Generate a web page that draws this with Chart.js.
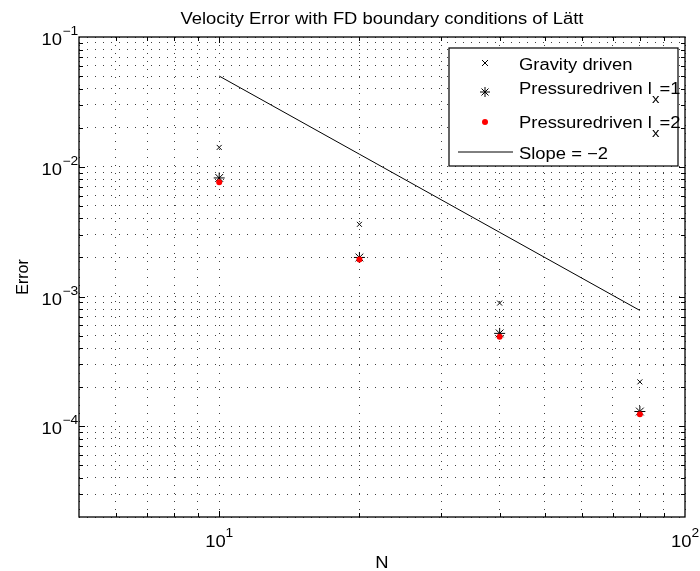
<!DOCTYPE html>
<html>
<head>
<meta charset="utf-8">
<script src="https://cdn.jsdelivr.net/npm/chart.js"></script>
<style>
  html, body { margin: 0; padding: 0; background: #fff; }
  #wrap { width: 700px; height: 571px; }
</style>
</head>
<body>
<div id="wrap"><canvas id="errorChart" width="700" height="571"></canvas></div>
<script>
// data
var N = [10, 20, 40, 80];
var gravityErr = [1.41e-2, 3.6e-3, 8.9e-4, 2.2e-4];
var pressure1Err = [8.2e-3, 2.0e-3, 5.2e-4, 1.3e-4];
var pressure2Err = [7.6e-3, 1.93e-3, 4.9e-4, 1.24e-4];
var slopeRef = [5e-2, 1.25e-2, 3.125e-3, 7.8125e-4];

var xRange = [5, 100];
var yRange = [2e-5, 1e-1];
var xLabelExps = [1, 2];
var yLabelExps = [-4, -3, -2, -1];

var chartTitle = 'Velocity Error with FD boundary conditions of L\u00e4tt';
var xTitle = 'N';
var yTitle = 'Error';
// [text, subscript, text after subscript]
var legendLabels = [
    ['Gravity driven', '', ''],
    ['Pressuredriven l', 'x', '=1'],
    ['Pressuredriven l', 'x', '=2'],
    ['Slope = \u22122', '', '']
];

var FONT = '"Liberation Sans", Arial, Helvetica, sans-serif';
var SX = 1.15; // the matlab text is a bit wider than it is tall

function textWidth(ctx, s, size) {
    ctx.save();
    ctx.font = size + 'px ' + FONT;
    var w = ctx.measureText(s).width * SX;
    ctx.restore();
    return w;
}

function drawText(ctx, s, x, y, size, align) {
    var w = textWidth(ctx, s, size);
    if (align === 'center') x -= w / 2;
    else if (align === 'right') x -= w;
    ctx.save();
    ctx.font = size + 'px ' + FONT;
    ctx.translate(x, y);
    ctx.scale(SX, 1);
    ctx.textAlign = 'left';
    ctx.textBaseline = 'alphabetic';
    ctx.fillStyle = '#000';
    ctx.fillText(s, 0, 0);
    ctx.restore();
    return w;
}

function logTicks(min, max) {
    var t = [];
    for (var e = Math.floor(Math.log10(min)); e <= Math.ceil(Math.log10(max)); e++) {
        for (var m = 1; m < 10; m++) {
            var v = m * Math.pow(10, e);
            if (v >= min * 0.999 && v <= max * 1.001) t.push({ value: v });
        }
    }
    return t;
}

function isDecade(v) {
    var l = Math.log10(v);
    return Math.abs(l - Math.round(l)) < 1e-9;
}

function pts(ys) {
    return N.map(function (n, i) { return { x: n, y: ys[i] }; });
}

function marker(ctx, style, x, y) {
    ctx.save();
    ctx.strokeStyle = '#000';
    ctx.lineWidth = 1;
    ctx.beginPath();
    if (style === 'crossRot') {
        ctx.moveTo(x - 3, y - 3); ctx.lineTo(x + 3, y + 3);
        ctx.moveTo(x - 3, y + 3); ctx.lineTo(x + 3, y - 3);
        ctx.stroke();
    } else if (style === 'star') {
        ctx.moveTo(x - 5, y); ctx.lineTo(x + 5, y);
        ctx.moveTo(x, y - 5); ctx.lineTo(x, y + 5);
        ctx.moveTo(x - 3.5, y - 3.5); ctx.lineTo(x + 3.5, y + 3.5);
        ctx.moveTo(x - 3.5, y + 3.5); ctx.lineTo(x + 3.5, y - 3.5);
        ctx.stroke();
    } else if (style === 'dot') {
        ctx.fillStyle = '#ff0000';
        ctx.arc(x, y, 3, 0, Math.PI * 2);
        ctx.fill();
    } else if (style === 'line') {
        ctx.moveTo(x - 27, y); ctx.lineTo(x + 28, y);
        ctx.stroke();
    }
    ctx.restore();
}

// axes box, inward ticks, tick labels, titles and legend, matlab style
var matlabDecor = {
    id: 'matlabDecor',
    afterDraw: function (chart) {
        var ctx = chart.ctx;
        var a = chart.chartArea;
        var xs = chart.scales.x;
        var ys = chart.scales.y;

        ctx.save();
        ctx.strokeStyle = '#000';
        ctx.lineWidth = 1;
        ctx.beginPath();
        xs.ticks.forEach(function (t) {
            if (t.value <= xRange[0] || t.value >= xRange[1]) return;
            var px = Math.round(xs.getPixelForValue(t.value)) + 0.5;
            var len = isDecade(t.value) ? 6 : 4;
            ctx.moveTo(px, a.bottom); ctx.lineTo(px, a.bottom - len);
            ctx.moveTo(px, a.top); ctx.lineTo(px, a.top + len);
        });
        ys.ticks.forEach(function (t) {
            if (t.value <= yRange[0] || t.value >= yRange[1]) return;
            var py = Math.round(ys.getPixelForValue(t.value)) + 0.5;
            var len = isDecade(t.value) ? 6 : 4;
            ctx.moveTo(a.left, py); ctx.lineTo(a.left + len, py);
            ctx.moveTo(a.right, py); ctx.lineTo(a.right - len, py);
        });
        ctx.stroke();
        ctx.lineWidth = 1.3;
        ctx.strokeRect(a.left, a.top, a.right - a.left, a.bottom - a.top);
        ctx.restore();

        // tick labels 10^n
        xLabelExps.forEach(function (e) {
            var px = xs.getPixelForValue(Math.pow(10, e));
            var w10 = textWidth(ctx, '10', 16);
            var sup = String(e).replace('-', '\u2212');
            var ws = textWidth(ctx, sup, 12);
            var x0 = px - (w10 + ws) / 2;
            drawText(ctx, '10', x0, a.bottom + 30, 16, 'left');
            drawText(ctx, sup, x0 + w10, a.bottom + 20, 12, 'left');
        });
        yLabelExps.forEach(function (e) {
            var py = ys.getPixelForValue(Math.pow(10, e));
            var sup = String(e).replace('-', '\u2212');
            drawText(ctx, '10', a.left - 17, py + 8, 16, 'right');
            drawText(ctx, sup, a.left - 16.5, py - 2, 12, 'left');
        });

        // titles
        var cx = (a.left + a.right) / 2;
        drawText(ctx, chartTitle, cx, 23.5, 16, 'center');
        drawText(ctx, xTitle, cx, 568, 16, 'center');
        ctx.save();
        ctx.translate(28, (a.top + a.bottom) / 2);
        ctx.rotate(-Math.PI / 2);
        ctx.font = '16px ' + FONT;
        ctx.fillStyle = '#000';
        ctx.textAlign = 'center';
        ctx.textBaseline = 'alphabetic';
        ctx.fillText(yTitle, 0, 0);
        ctx.restore();

        // legend
        ctx.save();
        ctx.fillStyle = '#fff';
        ctx.fillRect(449, 48, 229, 118);
        ctx.strokeStyle = '#000';
        ctx.lineWidth = 1.2;
        ctx.strokeRect(449, 48, 229, 118);
        ctx.restore();
        var styles = ['crossRot', 'star', 'dot', 'line'];
        var markY = [63, 92, 122, 152];
        var baseY = [70, 94, 128, 159];
        legendLabels.forEach(function (lab, i) {
            marker(ctx, styles[i], 485, markY[i]);
            var x = 519;
            x += drawText(ctx, lab[0], x, baseY[i], 16, 'left');
            if (lab[1]) {
                x += drawText(ctx, lab[1], x, baseY[i] + 9, 13, 'left');
                drawText(ctx, lab[2], x, baseY[i], 16, 'left');
            }
        });
    }
};

var gridOpts = {
    color: 'rgba(0,0,0,0.75)',
    lineWidth: 1,
    drawTicks: false
};

var config = {
    type: 'scatter',
    data: {
        datasets: [{
            label: legendLabels[3][0],
            data: pts(slopeRef),
            showLine: true,
            borderColor: '#000',
            borderWidth: 1,
            pointRadius: 0,
            order: 4
        }, {
            label: legendLabels[0][0],
            data: pts(gravityErr),
            pointStyle: 'crossRot',
            pointRadius: 3.5,
            borderColor: '#000',
            borderWidth: 1,
            order: 3
        }, {
            label: 'Pressuredriven lx=1',
            data: pts(pressure1Err),
            pointStyle: 'star',
            pointRadius: 5.5,
            borderColor: '#000',
            borderWidth: 1,
            order: 2
        }, {
            label: 'Pressuredriven lx=2',
            data: pts(pressure2Err),
            pointStyle: 'circle',
            pointRadius: 3,
            backgroundColor: '#ff0000',
            borderColor: '#ff0000',
            borderWidth: 0,
            order: 1
        }]
    },
    options: {
        responsive: false,
        animation: false,
        devicePixelRatio: 1,
        layout: { padding: { left: 79, right: 15, top: 37, bottom: 54 } },
        plugins: {
            legend: { display: false },
            tooltip: { enabled: false },
            title: { display: false }
        },
        scales: {
            x: {
                type: 'logarithmic',
                min: xRange[0],
                max: xRange[1],
                grid: gridOpts,
                border: { display: false, dash: [1, 7] },
                ticks: { display: false },
                afterBuildTicks: function (s) { s.ticks = logTicks(xRange[0], xRange[1]); },
                afterFit: function (s) { s.height = 0; }
            },
            y: {
                type: 'logarithmic',
                min: yRange[0],
                max: yRange[1],
                grid: gridOpts,
                border: { display: false, dash: [1, 7] },
                ticks: { display: false },
                afterBuildTicks: function (s) { s.ticks = logTicks(yRange[0], yRange[1]); },
                afterFit: function (s) { s.width = 0; }
            }
        }
    },
    plugins: [matlabDecor]
};

window.onload = function () {
    var ctx = document.getElementById('errorChart');
    window.myChart = new Chart(ctx, config);
};
</script>
</body>
</html>
